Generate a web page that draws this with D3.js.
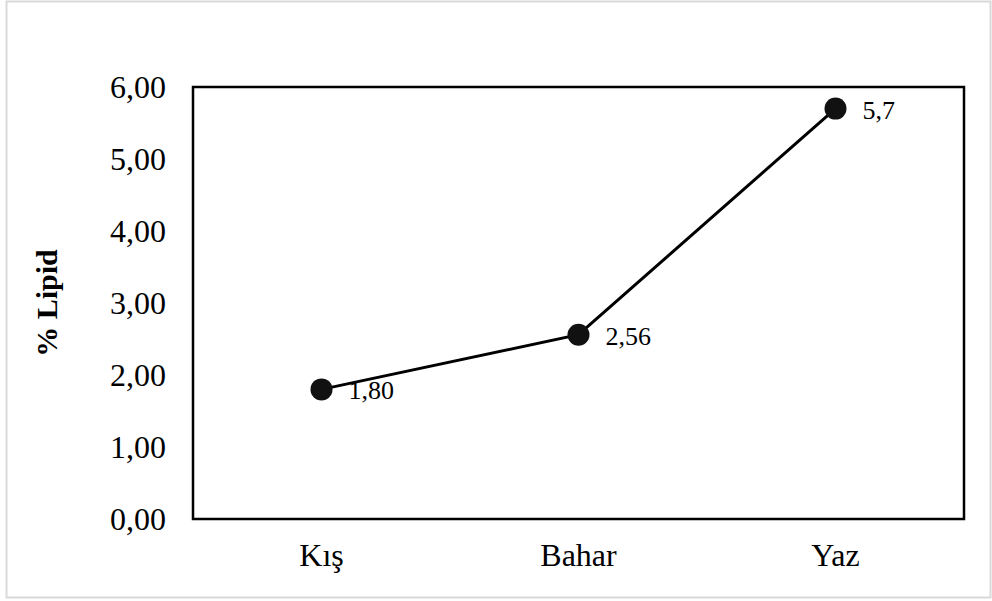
<!DOCTYPE html>
<html>
<head>
<meta charset="utf-8">
<script src="https://cdn.jsdelivr.net/npm/d3@7"></script>
<style>
  body { margin: 0; background: #fff; }
  svg text { font-family: "Liberation Serif", "Times New Roman", serif; fill: #000; }
</style>
</head>
<body>
<div id="chart"></div>
<script>
// data
const seasons = ["Kış", "Bahar", "Yaz"];
const lipid = [1.80, 2.56, 5.7];
const pointLabels = ["1,80", "2,56", "5,7"];
const yTicks = [0, 1, 2, 3, 4, 5, 6];

const W = 992, H = 601;
let margin = ({top: 87, right: 28, bottom: 82, left: 193});
let width = W - margin.left - margin.right;
let height = H - margin.top - margin.bottom;

let svg = d3.select('#chart')
    .append('svg')
        .attr("width", W)
        .attr("height", H);

// outer chart border
svg.append("rect")
    .attr("x", 6.5).attr("y", 1.5)
    .attr("width", W - 8).attr("height", H - 5)
    .attr("fill", "#fff")
    .attr("stroke", "#d9d9d9")
    .attr("stroke-width", 2);

let g = svg.append('g')
    .attr("transform", "translate(" + margin.left + "," + margin.top + ")");

let x = d3.scaleBand()
    .domain(seasons)
    .range([0, width]);

let y = d3.scaleLinear()
    .domain([0, 6])
    .range([height, 0]);

// plot frame
g.append("rect")
    .attr("width", width).attr("height", height)
    .attr("fill", "none")
    .attr("stroke", "#000")
    .attr("stroke-width", 2.5);

// y axis labels
let yaxis = g.append('g')
    .call(d3.axisLeft(y).tickValues(yTicks).tickSize(0).tickPadding(27)
        .tickFormat(d => d3.format(".2f")(d).replace(".", ",")));
yaxis.select(".domain").remove();
yaxis.selectAll(".tick text")
    .attr("font-size", 32)
    .attr("font-family", "Liberation Serif")
    .attr("dy", "0.33em");

// x axis labels
let xaxis = g.append('g')
    .attr("transform", "translate(0," + height + ")")
    .call(d3.axisBottom(x).tickSize(0).tickPadding(24));
xaxis.select(".domain").remove();
xaxis.selectAll(".tick text")
    .attr("font-size", 32)
    .attr("font-family", "Liberation Serif")
    .attr("dy", "0.71em");

// y axis title
g.append("text")
    .attr("transform", "rotate(-90)")
    .attr("x", -height / 2)
    .attr("y", -margin.left + 57)
    .attr("text-anchor", "middle")
    .attr("font-size", 30)
    .attr("font-weight", "bold")
    .text("% Lipid");

let cx = (d, i) => x(seasons[i]) + x.bandwidth() / 2;

// line
let line = d3.line()
    .x((d, i) => cx(d, i))
    .y(d => y(d));
g.append("path")
    .datum(lipid)
    .attr("d", line)
    .attr("fill", "none")
    .attr("stroke", "#000")
    .attr("stroke-width", 3);

// markers
g.selectAll("circle")
    .data(lipid)
    .enter().append("circle")
        .attr("cx", cx)
        .attr("cy", d => y(d))
        .attr("r", 11)
        .attr("fill", "#111");

// data labels
g.selectAll(".lbl")
    .data(lipid)
    .enter().append("text")
        .attr("class", "lbl")
        .attr("x", (d, i) => cx(d, i) + 27)
        .attr("y", d => y(d) + 10)
        .attr("font-size", 26)
        .text((d, i) => pointLabels[i]);
</script>
</body>
</html>
